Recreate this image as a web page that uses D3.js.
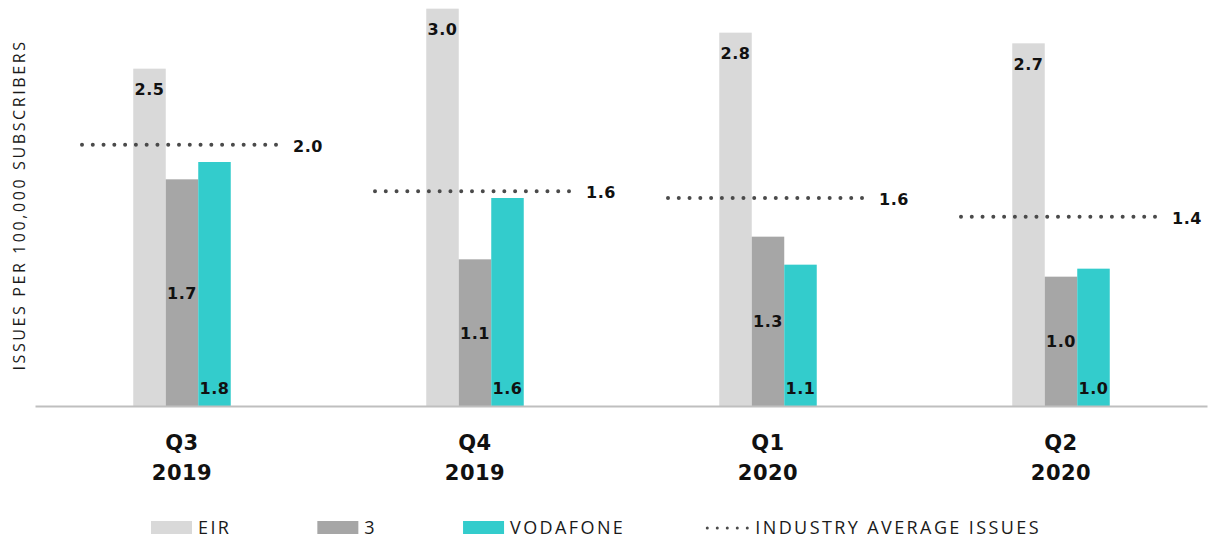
<!DOCTYPE html>
<html>
<head>
<meta charset="utf-8">
<script src="https://cdn.jsdelivr.net/npm/d3@7"></script>
<style>
  body { margin: 0; background: #fff; }
  svg { display: block; }
  .value { font-family: "DejaVu Sans", Verdana, sans-serif; font-weight: bold; font-size: 16px; fill: #111; }
  .cat { font-family: "DejaVu Sans", Verdana, sans-serif; font-weight: bold; font-size: 21px; fill: #111; }
  .legend, .ytitle { font-family: "Open Sans", sans-serif; fill: #1a1a1a; }
</style>
</head>
<body>
<svg id="chart" width="1209" height="539"></svg>
<script>
// quarters on the x axis
var quarters = ["Q3", "Q4", "Q1", "Q2"];
var years = ["2019", "2019", "2020", "2020"];

// series, issues per 100,000 subscribers
var series = ["EIR", "3", "VODAFONE"];
var eir = [2.53, 2.98, 2.80, 2.72];
var three = [1.70, 1.10, 1.27, 0.97];
var vodafone = [1.83, 1.56, 1.06, 1.03];
var industryAvg = [1.96, 1.61, 1.56, 1.42];

var colors = { "EIR": "#d9d9d9", "3": "#a6a6a6", "VODAFONE": "#33cccc" };
var avgLabel = "INDUSTRY AVERAGE ISSUES";
var yTitle = "ISSUES PER 100,000 SUBSCRIBERS";

var rows = quarters.map(function(q, i) {
    return { q: q, year: years[i], EIR: eir[i], "3": three[i], VODAFONE: vodafone[i], avg: industryAvg[i] };
});

var svg = d3.select("#chart");
var fmt = d3.format(".1f");

var plotLeft = 35.5, plotRight = 1207.5, baseY = 406;

var x = d3.scaleBand().domain(quarters.map(function(q, i) { return i; }))
    .range([plotLeft, plotRight]);
var groupW = 97.5;
var xs = d3.scaleBand().domain(series).range([0, groupW]);
var y = d3.scaleLinear().domain([0, 3]).range([baseY, 6]);

// bars
var groups = svg.selectAll("g.group").data(rows).enter().append("g")
    .attr("class", "group")
    .attr("transform", function(d, i) {
        return "translate(" + (x(i) + x.bandwidth() / 2 - groupW / 2) + ",0)";
    });

groups.selectAll("rect").data(function(d) {
    return series.map(function(s) { return { s: s, v: d[s] }; });
}).enter().append("rect")
    .attr("x", function(d) { return xs(d.s); })
    .attr("width", xs.bandwidth())
    .attr("y", function(d) { return y(d.v); })
    .attr("height", function(d) { return baseY - y(d.v); })
    .attr("fill", function(d) { return colors[d.s]; });

// bar labels: EIR at the top, 3 in the middle, VODAFONE at the base
groups.selectAll("text.value").data(function(d) {
    return series.map(function(s) { return { s: s, v: d[s] }; });
}).enter().append("text")
    .attr("class", "value")
    .attr("text-anchor", "middle")
    .attr("letter-spacing", "0.5px")
    .attr("x", function(d) { return xs(d.s) + xs.bandwidth() / 2; })
    .attr("y", function(d) {
        if (d.s === "EIR") return y(d.v) + 26.5;
        if (d.s === "3") return (y(d.v) + baseY) / 2 + 6;
        return baseY - 12;
    })
    .text(function(d) { return fmt(d.v); });

// axis baseline
svg.append("line")
    .attr("x1", plotLeft).attr("x2", plotRight)
    .attr("y1", baseY + 0.5).attr("y2", baseY + 0.5)
    .attr("stroke", "#bfbfbf").attr("stroke-width", 2);

// industry average dotted lines
var avgStart = 46.5, avgEnd = 240.5;
var dotGap = (avgEnd - avgStart) / 18;
svg.selectAll("line.avg").data(rows).enter().append("line")
    .attr("class", "avg")
    .attr("x1", function(d, i) { return x(i) + avgStart; })
    .attr("x2", function(d, i) { return x(i) + avgEnd + 0.1; })
    .attr("y1", function(d) { return y(d.avg); })
    .attr("y2", function(d) { return y(d.avg); })
    .attr("stroke", "#4a4a4a")
    .attr("stroke-width", 4)
    .attr("stroke-linecap", "round")
    .attr("stroke-dasharray", "0 " + dotGap);

svg.selectAll("text.avgval").data(rows).enter().append("text")
    .attr("class", "value avgval")
    .attr("letter-spacing", "0.5px")
    .attr("x", function(d, i) { return x(i) + avgEnd + 17; })
    .attr("y", function(d) { return y(d.avg) + 7; })
    .text(function(d) { return fmt(d.avg); });

// category labels
var cats = svg.selectAll("text.cat").data(rows).enter().append("text")
    .attr("class", "cat")
    .attr("text-anchor", "middle")
    .attr("letter-spacing", "0.5px");
cats.append("tspan")
    .attr("x", function(d, i) { return x(i) + x.bandwidth() / 2; })
    .attr("y", 450)
    .text(function(d) { return d.q; });
cats.append("tspan")
    .attr("x", function(d, i) { return x(i) + x.bandwidth() / 2; })
    .attr("y", 480)
    .text(function(d) { return d.year; });

// y axis title
svg.append("text")
    .attr("class", "ytitle")
    .attr("transform", "translate(25,205) rotate(-90)")
    .attr("text-anchor", "middle")
    .attr("font-size", "16px")
    .attr("letter-spacing", "2.6px")
    .text(yTitle);

// legend
var legend = svg.append("g").attr("class", "legend");
var lx = 151, ly = 521;
series.forEach(function(s, i) {
    legend.append("rect")
        .attr("x", lx).attr("y", ly)
        .attr("width", 41).attr("height", 13)
        .attr("fill", colors[s]);
    var t = legend.append("text")
        .attr("x", lx + 47).attr("y", ly + 13)
        .attr("font-size", "18px")
        .attr("letter-spacing", "2.4px")
        .text(s);
    lx = lx + 47 + t.node().getComputedTextLength() + (i < series.length - 1 ? 86 : 80);
});
legend.append("line")
    .attr("x1", lx + 2).attr("x2", lx + 42.1)
    .attr("y1", ly + 7).attr("y2", ly + 7)
    .attr("stroke", "#4a4a4a")
    .attr("stroke-width", 3)
    .attr("stroke-linecap", "round")
    .attr("stroke-dasharray", "0 10");
legend.append("text")
    .attr("x", lx + 50).attr("y", ly + 13)
    .attr("font-size", "18px")
    .attr("letter-spacing", "2.4px")
    .text(avgLabel);
</script>
</body>
</html>
